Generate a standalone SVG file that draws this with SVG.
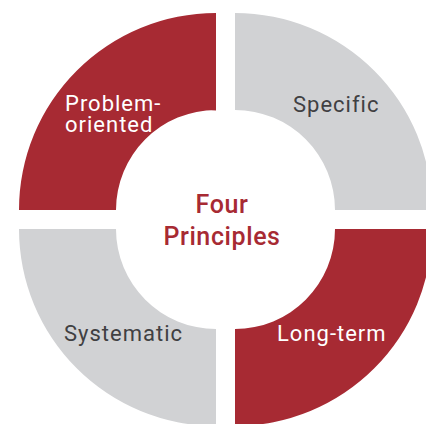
<svg xmlns="http://www.w3.org/2000/svg" width="426" height="424" viewBox="0 0 426 424">
<style>
.red{fill:#A72A33}
.gray{fill:#D1D2D4}
.lbl{font-family:Roboto,"Liberation Sans",sans-serif;font-size:22px;letter-spacing:1px}
.w{fill:#FFFFFF}
.d{fill:#404042}
.c{font-family:Roboto,"Liberation Sans",sans-serif;font-size:25px;font-weight:500;fill:#A72A33;text-anchor:middle;letter-spacing:0.6px}
</style>
<rect width="426" height="424" fill="#FFFFFF"/>
<g id="problem-oriented">
<path class="red" d="M216,210 V13 A197,197 0 0 0 19,210 H116 A100,100 0 0 1 216,110 Z"/>
<text class="lbl w" x="65" y="111">Problem-</text>
<text class="lbl w" x="65" y="132">oriented</text>
</g>
<g id="specific">
<path class="gray" d="M235,210 V13 A197,197 0 0 1 432,210 H335 A100,100 0 0 0 235,110 Z"/>
<text class="lbl d" x="293" y="112">Specific</text>
</g>
<g id="systematic">
<path class="gray" d="M216,229 V426 A197,197 0 0 1 19,229 H116 A100,100 0 0 0 216,329 Z"/>
<text class="lbl d" x="64" y="341">Systematic</text>
</g>
<g id="long-term">
<path class="red" d="M235,229 V426 A197,197 0 0 0 432,229 H335 A100,100 0 0 1 235,329 Z"/>
<text class="lbl w" x="277" y="341">Long-term</text>
</g>
<g id="center">
<text class="c" x="222" y="213">Four</text>
<text class="c" x="222" y="245">Principles</text>
</g>
<g id="connectors"/>
</svg>
